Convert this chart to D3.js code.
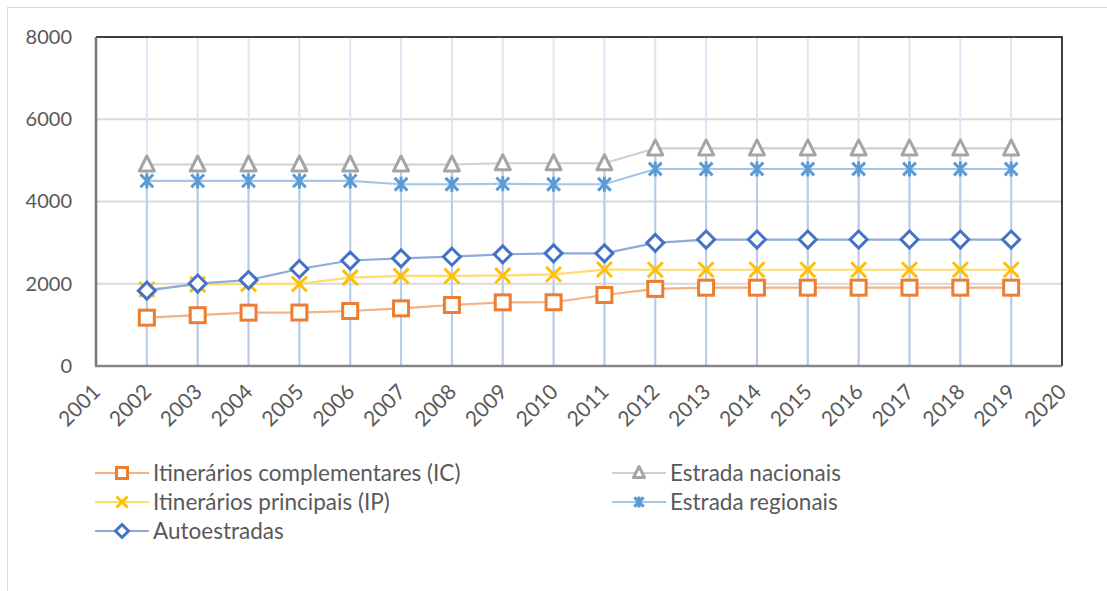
<!DOCTYPE html>
<html>
<head>
<meta charset="utf-8">
<script src="https://cdn.jsdelivr.net/npm/d3@7"></script>
<style>
  body { margin: 0; background: #fff; }
  text { font-family: Lato, "Open Sans", sans-serif; fill: #595959; }
</style>
</head>
<body>
<svg></svg>
<script>
var width = 1107,
    height = 591;

// data
var years = [2002, 2003, 2004, 2005, 2006, 2007, 2008, 2009, 2010, 2011, 2012, 2013, 2014, 2015, 2016, 2017, 2018, 2019];
var icValues   = [1175, 1235, 1297, 1300, 1337, 1402, 1483, 1548, 1550, 1726, 1875, 1905, 1905, 1905, 1905, 1905, 1905, 1905];
var enValues   = [4900, 4900, 4900, 4900, 4900, 4900, 4900, 4930, 4930, 4930, 5290, 5290, 5290, 5290, 5290, 5290, 5290, 5290];
var ipValues   = [1860, 1985, 1995, 1995, 2150, 2190, 2190, 2200, 2230, 2345, 2340, 2340, 2340, 2340, 2340, 2340, 2340, 2340];
var erValues   = [4500, 4500, 4500, 4500, 4500, 4420, 4420, 4430, 4420, 4420, 4790, 4790, 4790, 4790, 4790, 4790, 4790, 4790];
var autoValues = [1832, 2005, 2091, 2359, 2565, 2618, 2658, 2715, 2740, 2740, 2995, 3075, 3075, 3075, 3075, 3075, 3075, 3075];
var xTicks = [2001, 2002, 2003, 2004, 2005, 2006, 2007, 2008, 2009, 2010, 2011, 2012, 2013, 2014, 2015, 2016, 2017, 2018, 2019, 2020];
var yTicks = [0, 2000, 4000, 6000, 8000];
var seriesNames = ["Itinerários complementares (IC)", "Estrada nacionais", "Itinerários principais (IP)", "Estrada regionais", "Autoestradas"];

var series = [
  {name: seriesNames[0], values: icValues,   marker: "square",   color: "#ed7d31", line: "#f4b183"},
  {name: seriesNames[1], values: enValues,   marker: "triangle", color: "#a5a5a5", line: "#d0d0d0"},
  {name: seriesNames[2], values: ipValues,   marker: "x",        color: "#ffc000", line: "#ffdb70"},
  {name: seriesNames[3], values: erValues,   marker: "star",     color: "#5b9bd5", line: "#a3c6e8"},
  {name: seriesNames[4], values: autoValues, marker: "diamond",  color: "#4472c4", line: "#8eaadb"}
];

var svg = d3.select("svg")
    .attr("width", width)
    .attr("height", height);

// outer chart border
svg.append("rect")
  .attr("x", 7.5).attr("y", 7.5)
  .attr("width", 1200).attr("height", 700)
  .attr("fill", "#fff")
  .attr("stroke", "#d9d9d9");

var plot = {left: 96, right: 1062, top: 37, bottom: 366};

var x = d3.scaleLinear().domain([2001, 2020]).range([plot.left, plot.right]);
var y = d3.scaleLinear().domain([0, 8000]).range([plot.bottom, plot.top]);

//horizontal gridlines
svg.append("g").selectAll("line")
  .data(yTicks.filter(function(d){ return d > 0 && d < 8000; }))
  .enter().append("line")
    .attr("x1", plot.left).attr("x2", plot.right)
    .attr("y1", function(d){ return y(d); })
    .attr("y2", function(d){ return y(d); })
    .attr("stroke", "#d9d9d9")
    .attr("stroke-width", 2);

//vertical gridlines
svg.append("g").selectAll("line")
  .data(years)
  .enter().append("line")
    .attr("x1", function(d){ return x(d); })
    .attr("x2", function(d){ return x(d); })
    .attr("y1", plot.top).attr("y2", plot.bottom)
    .attr("stroke", "#dde6f4")
    .attr("stroke-width", 2);

//drop lines from highest point
svg.append("g").selectAll("line")
  .data(years)
  .enter().append("line")
    .attr("x1", function(d){ return x(d); })
    .attr("x2", function(d){ return x(d); })
    .attr("y1", function(d, i){ return y(d3.max(series, function(s){ return s.values[i]; })); })
    .attr("y2", plot.bottom)
    .attr("stroke", "#b9cbe8")
    .attr("stroke-width", 2);

//frame
svg.append("path")
  .attr("d", "M" + plot.left + "," + plot.top + "H" + plot.right + "V" + plot.bottom)
  .attr("fill", "none")
  .attr("stroke", "#000")
  .attr("stroke-width", 1.5);

//axes
var yAxis = d3.axisLeft(y).tickValues(yTicks).tickSize(0).tickPadding(24).tickFormat(d3.format("d"));
var yg = svg.append("g").attr("transform", "translate(" + plot.left + ",0)").call(yAxis);
yg.select(".domain").remove();
yg.selectAll("text").style("font-size", "20px").style("font-family", "Lato, sans-serif").attr("fill", "#595959");

var xAxis = d3.axisBottom(x).tickValues(xTicks).tickSize(0).tickFormat(d3.format("d"));
var xg = svg.append("g").attr("transform", "translate(0," + plot.bottom + ")").call(xAxis);
xg.select(".domain").remove();
xg.selectAll("text")
  .style("font-size", "21px").style("font-family", "Lato, sans-serif").attr("fill", "#595959")
  .attr("text-anchor", "end")
  .attr("y", 0).attr("dy", "0.35em")
  .attr("transform", "translate(0,22) rotate(-45)");

svg.append("line")
  .attr("x1", plot.left).attr("x2", plot.left)
  .attr("y1", plot.top).attr("y2", plot.bottom)
  .attr("stroke", "#767676").attr("stroke-width", 2.5);
svg.append("line")
  .attr("x1", plot.left - 1).attr("x2", plot.right)
  .attr("y1", plot.bottom).attr("y2", plot.bottom)
  .attr("stroke", "#868686").attr("stroke-width", 2.5);

//marker shapes
function drawMarker(sel, type, color, s) {
  var h = s / 2;
  if (type == "square") {
    sel.append("rect").attr("x", -h).attr("y", -h).attr("width", s).attr("height", s)
      .attr("fill", "#fff").attr("stroke", color).attr("stroke-width", 3);
  } else if (type == "triangle") {
    sel.append("path").attr("d", "M0," + (-h - 1) + "L" + h + "," + (h - 1) + "L" + (-h) + "," + (h - 1) + "Z")
      .attr("fill", "#fff").attr("stroke", color).attr("stroke-width", 3).attr("stroke-linejoin", "round");
  } else if (type == "diamond") {
    sel.append("path").attr("d", "M0," + (-h) + "L" + h + ",0L0," + h + "L" + (-h) + ",0Z")
      .attr("fill", "#fff").attr("stroke", color).attr("stroke-width", 3);
  } else if (type == "x") {
    sel.append("path").attr("d", "M" + (-h) + "," + (-h) + "L" + h + "," + h + "M" + h + "," + (-h) + "L" + (-h) + "," + h)
      .attr("stroke", color).attr("stroke-width", 3);
  } else if (type == "star") {
    var k = h * 0.85;
    sel.append("path").attr("d", "M" + (-k) + "," + (-k) + "L" + k + "," + k + "M" + k + "," + (-k) + "L" + (-k) + "," + k +
        "M0," + (-h) + "L0," + h)
      .attr("stroke", color).attr("stroke-width", 3);
  }
}

var line = d3.line()
  .x(function(d){ return x(d.year); })
  .y(function(d){ return y(d.value); });

series.forEach(function(s) {
  var pts = years.map(function(yr, i){ return {year: yr, value: s.values[i]}; });
  svg.append("path")
    .datum(pts)
    .attr("d", line)
    .attr("fill", "none")
    .attr("stroke", s.line)
    .attr("stroke-width", 2.2);
  svg.append("g").selectAll("g")
    .data(pts)
    .enter().append("g")
      .attr("transform", function(d){ return "translate(" + x(d.year) + "," + y(d.value) + ")"; })
      .each(function(){
        var size = s.marker == "diamond" ? 17 : 15;
        drawMarker(d3.select(this), s.marker, s.color, size);
      });
});

//legend
var legendPos = [
  {x: 95, y: 473}, {x: 612, y: 473},
  {x: 95, y: 502}, {x: 612, y: 502},
  {x: 95, y: 531}
];
var legend = svg.append("g").selectAll("g")
  .data(series)
  .enter().append("g")
    .attr("transform", function(d, i){ return "translate(" + legendPos[i].x + "," + legendPos[i].y + ")"; });

legend.append("line")
  .attr("x1", 0).attr("x2", 54)
  .attr("stroke", function(d){ return d.line; })
  .attr("stroke-width", 2.2);
legend.append("g")
  .attr("transform", "translate(27,0)")
  .each(function(d){
    drawMarker(d3.select(this), d.marker, d.color, d.marker == "diamond" ? 13 : 11);
  });
legend.append("text")
  .attr("x", 58)
  .attr("dy", "0.35em")
  .style("font-size", "22.5px")
  .text(function(d){ return d.name; });
</script>
</body>
</html>
